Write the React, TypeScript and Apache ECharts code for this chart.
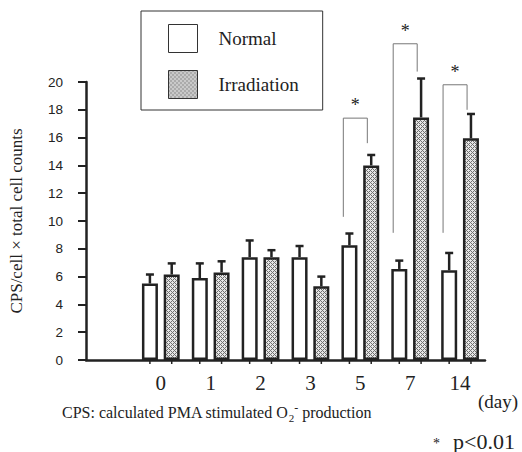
import React, { useEffect, useRef } from "react";
import * as echarts from "echarts";

const days = ["0", "1", "2", "3", "5", "7", "14"];
const normalMean = [5.5, 5.9, 7.4, 7.4, 8.25, 6.55, 6.45];
const normalErr = [0.65, 1.05, 1.2, 0.8, 0.85, 0.6, 1.25];
const irradMean = [6.15, 6.3, 7.4, 5.3, 14.0, 17.45, 15.95];
const irradErr = [0.8, 0.8, 0.5, 0.7, 0.75, 2.8, 1.75];
// significance brackets: [day label, left leg bottom, right leg bottom, top]
const brackets: [string, number, number, number][] = [
  ["5", 10.3, 15.6, 17.4],
  ["7", 9.15, 20.75, 22.75],
  ["14", 9.15, 18.0, 19.8],
];
const yTicks = { min: 0, max: 20, interval: 2 };

const SERIF = "'Liberation Serif', 'Times New Roman', serif";
const SANS = "'Liberation Sans', Arial, sans-serif";

function makePattern(): HTMLCanvasElement {
  const c = document.createElement("canvas");
  c.width = 4;
  c.height = 4;
  const ctx = c.getContext("2d")!;
  for (let i = 0; i < 4; i++) {
    for (let j = 0; j < 4; j++) {
      const on = (i + j) % 4 === 0 || (i - j + 4) % 4 === 0;
      ctx.fillStyle = on ? "#707070" : "#e6e6e6";
      ctx.fillRect(i, j, 1, 1);
    }
  }
  return c;
}

export default function App() {
  const ref = useRef<HTMLDivElement>(null);
  useEffect(() => {
    if (!ref.current) return;
    const chart = echarts.init(ref.current, null, { renderer: "svg" });
    const categories = ["", ...days];
    const pattern = { image: makePattern(), repeat: "repeat", imageWidth: 4, imageHeight: 4 } as any;
    const OFF = 10.9;

    const errData: number[][] = [];
    days.forEach((_, i) => {
      errData.push([i + 1, normalMean[i], normalErr[i], -1]);
      errData.push([i + 1, irradMean[i], irradErr[i], 1]);
    });
    const brData = brackets.map((b) => [categories.indexOf(b[0]), b[1], b[2], b[3]]);

    chart.setOption({
      animation: false,
      grid: { left: 80, right: 37, top: 82, bottom: 92 },
      legend: {
        orient: "vertical",
        left: 141,
        top: 11,
        padding: [13, 24, 11, 27],
        itemWidth: 29,
        itemHeight: 28,
        itemGap: 17,
        borderColor: "#333",
        borderWidth: 1,
        icon: "rect",
        itemStyle: { borderWidth: 1, borderColor: "#333" },
        textStyle: { fontFamily: SERIF, fontSize: 19, color: "#222", padding: [0, 0, 0, 16] },
        data: ["Normal", "Irradiation"],
      },
      xAxis: {
        type: "category",
        data: categories,
        axisLine: { lineStyle: { color: "#222", width: 2.5 } },
        axisTick: { show: false },
        axisLabel: { fontFamily: SERIF, fontSize: 21, color: "#222", margin: 12 },
      },
      yAxis: {
        type: "value",
        min: yTicks.min,
        max: yTicks.max,
        interval: yTicks.interval,
        name: "CPS/cell × total cell counts",
        nameLocation: "middle",
        nameGap: 61,
        nameTextStyle: { fontFamily: SERIF, fontSize: 17, color: "#222" },
        axisLine: { show: true, lineStyle: { color: "#222", width: 2.5 } },
        axisTick: { show: true, length: 8, lineStyle: { color: "#222", width: 2 } },
        axisLabel: { fontFamily: SANS, fontSize: 13.5, color: "#222", margin: 23 },
        splitLine: { show: false },
      },
      series: [
        {
          name: "Normal",
          type: "bar",
          barWidth: 16,
          barGap: "36%",
          data: [null, ...normalMean],
          itemStyle: { color: "#ffffff", borderColor: "#222", borderWidth: 2.5 },
        },
        {
          name: "Irradiation",
          type: "bar",
          barWidth: 16,
          barGap: "36%",
          data: [null, ...irradMean],
          itemStyle: { color: pattern, borderColor: "#222", borderWidth: 2.5 },
        },
        {
          type: "custom",
          clip: false,
          z: 5,
          data: errData,
          renderItem: (params: any, api: any) => {
            const x = api.value(0);
            const v = api.value(1);
            const e = api.value(2);
            const s = api.value(3);
            const p0 = api.coord([x, v]);
            const p1 = api.coord([x, v + e]);
            const b = api.coord([x, 0]);
            const cx = p0[0] + s * OFF;
            return {
              type: "group",
              children: [
                { type: "line", shape: { x1: cx, y1: p0[1], x2: cx, y2: p1[1] }, style: { stroke: "#222", lineWidth: 2.5 } },
                { type: "line", shape: { x1: cx - 4, y1: p1[1], x2: cx + 4, y2: p1[1] }, style: { stroke: "#222", lineWidth: 2.5 } },
                { type: "line", shape: { x1: cx, y1: b[1], x2: cx, y2: b[1] + 4 }, style: { stroke: "#222", lineWidth: 1.5 } },
              ],
            };
          },
        },
        {
          type: "custom",
          clip: false,
          z: 6,
          data: brData,
          renderItem: (params: any, api: any) => {
            const x = api.value(0);
            const pl = api.coord([x, api.value(1)]);
            const pr = api.coord([x, api.value(2)]);
            const pt = api.coord([x, api.value(3)]);
            const xl = pl[0] - 17;
            const xr = pl[0] + 7;
            return {
              type: "group",
              children: [
                {
                  type: "polyline",
                  shape: { points: [[xl, pl[1]], [xl, pt[1]], [xr, pt[1]], [xr, pr[1]]] },
                  style: { stroke: "#777", lineWidth: 1, fill: "none" },
                },
                {
                  type: "text",
                  x: (xl + xr) / 2,
                  y: pt[1] - 4,
                  style: { text: "*", fontFamily: SERIF, fontSize: 18, fill: "#222", align: "center", verticalAlign: "bottom" },
                },
              ],
            };
          },
        },
      ],
      graphic: [
        {
          type: "text",
          left: 478,
          top: 392,
          style: { text: "(day)", fontFamily: SERIF, fontSize: 19, fill: "#222" },
        },
        {
          type: "text",
          left: 62,
          top: 402,
          style: {
            text: "CPS: calculated PMA stimulated O{sub|2}{sup|-} production",
            fontFamily: SERIF,
            fontSize: 16,
            lineHeight: 21,
            fill: "#222",
            rich: {
              sub: { fontFamily: SERIF, fontSize: 11, verticalAlign: "bottom", lineHeight: 21, fill: "#222" },
              sup: { fontFamily: SERIF, fontSize: 12, verticalAlign: "top", lineHeight: 21, fill: "#222" },
            },
          },
        },
        {
          type: "text",
          left: 433,
          top: 436,
          style: { text: "*", fontFamily: SERIF, fontSize: 14, fill: "#222" },
        },
        {
          type: "text",
          left: 453,
          top: 430,
          style: { text: "p<0.01", fontFamily: SERIF, fontSize: 22, fill: "#222" },
        },
      ],
    });
    return () => chart.dispose();
  }, []);
  return <div ref={ref} style={{ position: "absolute", left: 0, top: 0, width: 522, height: 452 }} />;
}
